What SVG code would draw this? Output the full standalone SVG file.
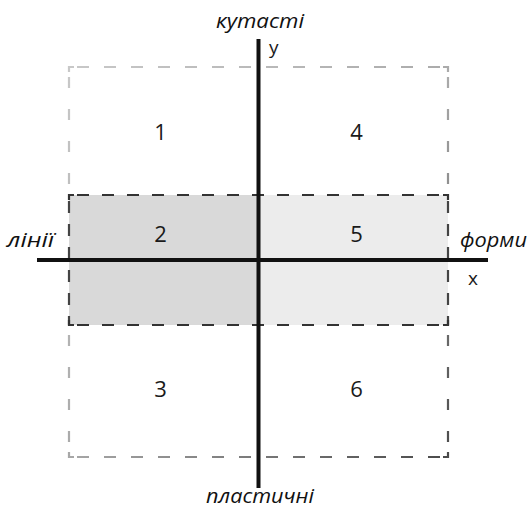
<svg xmlns="http://www.w3.org/2000/svg" width="530" height="508" viewBox="0 0 530 508">
<style>
.num{font-family:"Open Sans","Noto Sans",sans-serif;font-size:22px;fill:#1a1a1a;text-anchor:middle}
.lab{font-family:"Open Sans","Noto Sans",sans-serif;font-size:20px;font-style:italic;fill:#111}
.ax{font-family:"Open Sans","Noto Sans",sans-serif;font-size:19px;fill:#1a1a1a}
.axis{stroke:#111;stroke-width:4;fill:none}
.oh{fill:none;stroke-width:2.2;stroke-dasharray:12 15;stroke-dashoffset:-8}
.ov{fill:none;stroke-width:2.2;stroke-dasharray:11 21;stroke-dashoffset:-10}
.bh{fill:none;stroke:#333;stroke-width:2.2;stroke-dasharray:12 13;stroke-dashoffset:-8}
.bv{fill:none;stroke:#444;stroke-width:2.2;stroke-dasharray:12 11;stroke-dashoffset:-6}
.cor{fill:none;stroke-width:2.2}
</style>
<defs>
<linearGradient id="g" x1="69" y1="67" x2="448" y2="457" gradientUnits="userSpaceOnUse">
<stop offset="0" stop-color="#c8c8c8"/>
<stop offset="0.5" stop-color="#aaa"/>
<stop offset="1" stop-color="#4a4a4a"/>
</linearGradient>
</defs>
<g id="band-left"><rect x="69" y="195" width="190" height="130" fill="#d9d9d9"/></g>
<g id="band-right"><rect x="259" y="195" width="189" height="130" fill="#ececec"/></g>
<g id="outer" stroke="url(#g)">
<path class="oh" d="M69 67H448"/>
<path class="oh" d="M69 457H448"/>
<path class="ov" d="M69 67V195"/>
<path class="ov" d="M448 67V195"/>
<path class="ov" d="M69 325V457"/>
<path class="ov" d="M448 325V457"/>
<path class="cor" d="M69 72V67H74M443 67H448V72M69 452V457H74M443 457H448V452"/>
</g>
<g id="band">
<path class="bh" d="M69 195H448M69 325H448"/>
<path class="bv" d="M69 195V325M448 195V325"/>
<path class="cor" stroke="#333" d="M69 200V195H74M443 195H448V200M69 320V325H74M443 325H448V320"/>
</g>
<g id="connectors">
<line class="axis" x1="258.5" y1="39" x2="258.5" y2="488"/>
<line class="axis" x1="37" y1="260" x2="488" y2="260"/>
</g>
<g id="n1"><text class="num" x="160.5" y="140">1</text></g>
<g id="n4"><text class="num" x="356.5" y="140">4</text></g>
<g id="n2"><text class="num" x="160.5" y="241.5">2</text></g>
<g id="n5"><text class="num" x="356.5" y="241.5">5</text></g>
<g id="n3"><text class="num" x="160.5" y="397">3</text></g>
<g id="n6"><text class="num" x="356.5" y="397">6</text></g>
<g id="labels">
<text class="lab" x="216" y="28" textLength="88" lengthAdjust="spacingAndGlyphs">кутасті</text>
<text class="ax" x="269" y="54">y</text>
<text class="lab" x="7" y="246.5" textLength="47" lengthAdjust="spacingAndGlyphs">лінії</text>
<text class="lab" x="460" y="246.5" textLength="67" lengthAdjust="spacingAndGlyphs">форми</text>
<text class="ax" x="468" y="285">x</text>
<text class="lab" x="206" y="503" font-size="19" textLength="108" lengthAdjust="spacingAndGlyphs">пластичні</text>
</g>
</svg>
